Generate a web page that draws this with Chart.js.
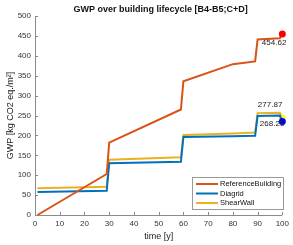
<!DOCTYPE html>
<html>
<head>
<meta charset="utf-8">
<script src="https://cdn.jsdelivr.net/npm/chart.js@4"></script>
<style>
  html, body { margin: 0; padding: 0; background: #fff; }
  canvas { display: block; }
</style>
</head>
<body>
<canvas id="gwp_chart" width="293" height="245"></canvas>
<script>
// values (year -> kg CO2 eq./m2)
var years = [1, 29, 30, 59, 60, 80, 89, 90, 99, 100];
var referenceBuilding = [0, 103, 182, 265, 336, 379, 386, 441, 444, 454.62];
var diagrid = [58, 61, 130, 134, 196, 198, 199, 249, 250, 235];
var shearWall = [67, 71, 139, 145, 201, 205, 207, 256, 257, 243];
var endLabels = ['454.62', '268.25', '277.87'];
var seriesNames = ['ReferenceBuilding', 'Diagrid', 'ShearWall'];
var xTicks = [0, 10, 20, 30, 40, 50, 60, 70, 80, 90, 100];

var lineColors = ['#D95319', '#0072BD', '#EDB120'];
var markerColors = ['#ff0000', '#0000ff', '#ffff00'];
var FONT = '"Liberation Sans", Arial, sans-serif';

function toPoints(vals) {
  return years.map(function (y, i) { return {x: y, y: vals[i]}; });
}

function lastOnly(v) {
  return function (c) { return c.dataIndex === years.length - 1 ? v : 0; };
}

var allSeries = [referenceBuilding, diagrid, shearWall];
var datasets = allSeries.map(function (vals, i) {
  return {
    label: seriesNames[i],
    data: toPoints(vals),
    borderColor: lineColors[i],
    borderWidth: 2,
    tension: 0,
    clip: false,
    pointRadius: lastOnly(3.5),
    pointHoverRadius: 0,
    pointBackgroundColor: markerColors[i],
    pointBorderColor: markerColors[i],
    pointBorderWidth: 0
  };
});

// label offsets relative to the end marker: [dx, dy, align]
var labelPos = [[4, 9, 'right'], [2, 2, 'right'], [0, -13, 'right']];

var extras = {
  id: 'extras',
  afterDatasetsDraw: function (chart) {
    var c = chart.ctx, xs = chart.scales.x, ys = chart.scales.y, a = chart.chartArea;
    c.save();
    // axes lines + inward ticks
    c.strokeStyle = '#8a8a8a';
    c.lineWidth = 1;
    c.beginPath();
    c.moveTo(a.left + 0.5, a.top);
    c.lineTo(a.left + 0.5, a.bottom + 0.5);
    c.lineTo(a.right, a.bottom + 0.5);
    ys.ticks.forEach(function (t) {
      var py = Math.round(ys.getPixelForValue(t.value)) + 0.5;
      c.moveTo(a.left, py);
      c.lineTo(a.left + 3, py);
    });
    xs.ticks.forEach(function (t) {
      var px = Math.round(xs.getPixelForValue(t.value)) + 0.5;
      c.moveTo(px, a.bottom);
      c.lineTo(px, a.bottom - 3);
    });
    c.stroke();

    // end value labels
    c.font = '8px ' + FONT;
    c.fillStyle = '#222';
    c.textBaseline = 'middle';
    allSeries.forEach(function (vals, i) {
      var n = years.length - 1;
      var px = xs.getPixelForValue(years[n]);
      var py = ys.getPixelForValue(vals[n]);
      c.textAlign = labelPos[i][2];
      c.fillText(endLabels[i], px + labelPos[i][0], py + labelPos[i][1]);
    });

    // title
    c.font = 'bold 9px ' + FONT;
    c.textAlign = 'center';
    c.fillStyle = '#111';
    c.fillText('GWP over building lifecycle [B4-B5;C+D]', (a.left + a.right) / 2 + 2, 10);

    // legend box
    var lx = 192, ly = 177, lw = 91, lh = 32;
    c.fillStyle = '#fff';
    c.fillRect(lx, ly, lw, lh);
    c.strokeStyle = '#9a9a9a';
    c.strokeRect(lx + 0.5, ly + 0.5, lw, lh);
    c.font = '7.5px ' + FONT;
    c.textAlign = 'left';
    chart.data.datasets.forEach(function (ds, i) {
      var ry = ly + 7 + i * 9.5;
      c.strokeStyle = ds.borderColor;
      c.lineWidth = 2;
      c.beginPath();
      c.moveTo(lx + 4, ry);
      c.lineTo(lx + 26, ry);
      c.stroke();
      c.fillStyle = '#111';
      c.fillText(ds.label, lx + 28, ry);
    });
    c.restore();
  }
};

new Chart(document.getElementById('gwp_chart'), {
  type: 'line',
  data: {datasets: datasets},
  options: {
    responsive: false,
    animation: false,
    events: [],
    layout: {padding: {top: 16, right: 10, left: 0, bottom: 0}},
    plugins: {legend: {display: false}, title: {display: false}, tooltip: {enabled: false}},
    scales: {
      x: {
        type: 'linear',
        min: 0, max: 100,
        afterBuildTicks: function (s) { s.ticks = xTicks.map(function (v) { return {value: v}; }); },
        afterFit: function (s) { s.height = 30; },
        grid: {display: false, drawTicks: false},
        border: {display: false},
        ticks: {color: '#333', font: {size: 8, family: FONT}, padding: 4, maxRotation: 0, autoSkip: false},
        title: {display: true, text: 'time [y]', color: '#222', font: {size: 9, family: FONT}, padding: {top: 0, bottom: 3}}
      },
      y: {
        min: 0, max: 500,
        afterFit: function (s) { s.width = 35; },
        grid: {display: false, drawTicks: false},
        border: {display: false},
        ticks: {stepSize: 50, color: '#333', font: {size: 8, family: FONT}, padding: 4},
        title: {display: true, text: 'GWP [kg CO2 eq./m²]', color: '#222', font: {size: 9, family: FONT}, padding: {top: 5, bottom: 0}}
      }
    }
  },
  plugins: [extras]
});
</script>
</body>
</html>
